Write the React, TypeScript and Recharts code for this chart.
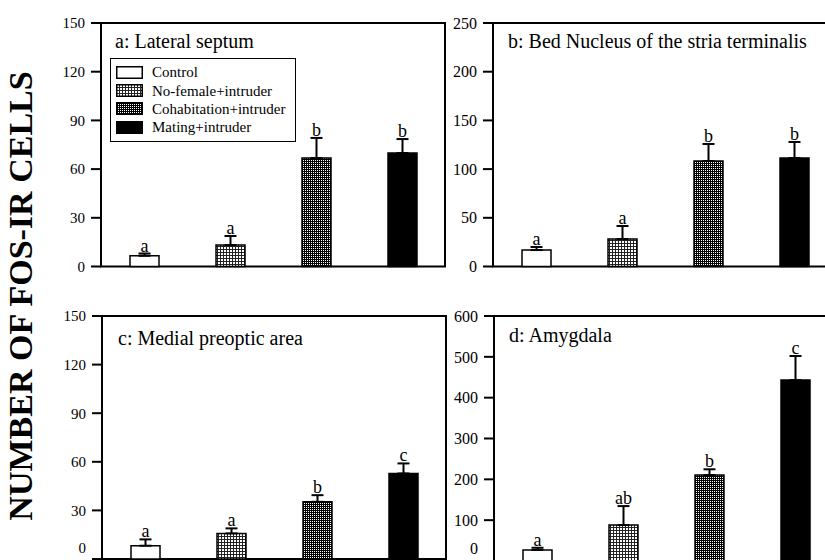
import React from 'react';
import { BarChart, Bar, XAxis, YAxis, ErrorBar, LabelList, Cell, Legend, ReferenceArea } from 'recharts';

const groups = ['Control', 'No-female+intruder', 'Cohabitation+intruder', 'Mating+intruder'];
const fills = ['#ffffff', 'url(#pNoFemale)', 'url(#pCohab)', '#000000'];

const lsMeans = [6.6, 13.2, 66.8, 69.9];
const lsErrors = [1.4, 5.6, 12.4, 8.6];
const lsLetters = ['a', 'a', 'b', 'b'];
const lsTicks = [0, 30, 60, 90, 120, 150];

const bnstMeans = [16.9, 28.2, 108.3, 111.4];
const bnstErrors = [3.1, 13.4, 17.5, 16.4];
const bnstLetters = ['a', 'a', 'b', 'b'];
const bnstTicks = [0, 50, 100, 150, 200, 250];

const mpoaMeans = [8.2, 15.8, 35.3, 52.8];
const mpoaErrors = [3.9, 3.1, 4.1, 6.2];
const mpoaLetters = ['a', 'a', 'b', 'c'];
const mpoaTicks = [0, 30, 60, 90, 120, 150];

const amyMeans = [27, 88, 210.6, 443];
const amyErrors = [5.4, 46.5, 14, 59];
const amyLetters = ['a', 'ab', 'b', 'c'];
const amyTicks = [0, 100, 200, 300, 400, 500, 600];

const yTitle = 'NUMBER OF FOS-IR CELLS';
const FONT = '"Liberation Serif", "Times New Roman", serif';

const ML = 40;
const YW = 60;
const MR = 15;
const MT = 23;
const MB = 23;

function LegendBox() {
  return (
    <div
      style={{
        width: 186,
        height: 84,
        boxSizing: 'border-box',
        border: '1.5px solid #000',
        background: '#fff',
        paddingTop: 4,
        paddingLeft: 5,
        fontFamily: FONT,
        fontSize: 15,
        color: '#000',
      }}
    >
      {groups.map((g, i) => (
        <div key={g} style={{ display: 'flex', alignItems: 'center', height: 18.4, lineHeight: '18px' }}>
          <svg width={27} height={13} style={{ marginRight: 9, display: 'block' }}>
            <rect x={0.75} y={0.75} width={25.5} height={11.5} fill={fills[i]} stroke="#000" strokeWidth={1.5} />
          </svg>
          <span>{g}</span>
        </div>
      ))}
    </div>
  );
}

type PanelProps = {
  title: string;
  means: number[];
  errors: number[];
  letters: string[];
  ticks: number[];
  x0: number;
  x1: number;
  y0: number;
  y1: number;
  titleX: number;
  titleY: number;
  tickFont: number;
  showLegend?: boolean;
};

function Panel(p: PanelProps) {
  const data = groups.map((g, i) => ({ group: g, value: p.means[i], err: [0, p.errors[i]] }));
  const left = p.x0 - ML - YW;
  const top = p.y0 - MT;
  const width = p.x1 - left + MR;
  const height = p.y1 - top + MB;
  const maxY = p.ticks[p.ticks.length - 1];
  const axisStyle = { stroke: '#000', strokeWidth: 2 };
  const pageBottomLimit = 560 - top - 12;
  const renderTick = (props: any) => {
    const { x, y, payload } = props;
    const ty = Math.min(Number(y), pageBottomLimit);
    return (
      <text x={x} y={ty} dy="0.355em" textAnchor="end" fontFamily={FONT} fontSize={p.tickFont} fill="#000">
        {payload.value}
      </text>
    );
  };
  const renderLetter = (props: any) => {
    const { x, y, width: w, height: h, index, value } = props;
    const pxPerUnit = Number(h) / Number(value);
    const errTop = Number(y) - p.errors[index] * pxPerUnit;
    return (
      <text
        key={`lt-${index}`}
        x={Number(x) + Number(w) / 2}
        y={errTop - 2}
        textAnchor="middle"
        fontFamily={FONT}
        fontSize={18}
        fill="#000"
      >
        {p.letters[index]}
      </text>
    );
  };
  return (
    <div style={{ position: 'absolute', left, top, width, height }}>
      <BarChart
        width={width}
        height={height}
        data={data}
        margin={{ top: MT, right: MR, bottom: MB, left: ML }}
        barSize={29}
      >
        <XAxis dataKey="group" tick={false} tickLine={false} height={0} axisLine={axisStyle} />
        <YAxis
          domain={[0, maxY]}
          ticks={p.ticks}
          interval={0}
          width={YW}
          tickSize={10}
          tickMargin={6}
          tick={renderTick}
          axisLine={axisStyle}
          tickLine={axisStyle}
        />
        <ReferenceArea
          x1={groups[0]}
          x2={groups[groups.length - 1]}
          y1={0}
          y2={maxY}
          fill="none"
          fillOpacity={0}
          stroke="#000"
          strokeWidth={2}
          ifOverflow="visible"
        />
        <Bar dataKey="value" stroke="#000" strokeWidth={1.5} isAnimationActive={false}>
          {data.map((d, i) => (
            <Cell key={d.group} fill={fills[i]} />
          ))}
          <ErrorBar dataKey="err" width={6} stroke="#000" strokeWidth={2} direction="y" isAnimationActive={false} />
          <LabelList dataKey="value" content={renderLetter} />
        </Bar>
        <text x={p.titleX - left} y={p.titleY - top} fontFamily={FONT} fontSize={20} fill="#000">
          {p.title}
        </text>
        {p.showLegend && (
          <Legend
            layout="vertical"
            align="center"
            verticalAlign="middle"
            content={() => <LegendBox />}
            wrapperStyle={{ left: 110 - left, top: 58 - top, width: 186, height: 84 }}
          />
        )}
      </BarChart>
    </div>
  );
}

export default function App() {
  return (
    <div style={{ position: 'absolute', left: 0, top: 0, width: 825, height: 560, overflow: 'hidden', background: '#fff' }}>
      <svg width={0} height={0} style={{ position: 'absolute' }}>
        <defs>
          <pattern id="pNoFemale" patternUnits="userSpaceOnUse" width={3} height={3}>
            <rect x={0} y={0} width={3} height={3} fill="#fff" />
            <rect x={0} y={0} width={3} height={1} fill="#222" />
            <rect x={0} y={0} width={1} height={3} fill="#222" />
          </pattern>
          <pattern id="pCohab" patternUnits="userSpaceOnUse" width={2} height={2}>
            <rect x={0} y={0} width={2} height={2} fill="#000" />
            <rect x={0} y={0} width={1} height={1} fill="#fff" />
          </pattern>
        </defs>
      </svg>
      <svg width={60} height={560} style={{ position: 'absolute', left: 0, top: 0 }}>
        <text
          x={32}
          y={296}
          transform="rotate(-90, 32, 296)"
          textAnchor="middle"
          fontFamily={FONT}
          fontWeight="bold"
          fontSize={34}
          fill="#000"
        >
          {yTitle}
        </text>
      </svg>
      <Panel title="a: Lateral septum" means={lsMeans} errors={lsErrors} letters={lsLetters} ticks={lsTicks}
        x0={101} x1={445} y0={23} y1={266.5} titleX={115} titleY={48} tickFont={15} showLegend />
      <Panel title="b: Bed Nucleus of the stria terminalis" means={bnstMeans} errors={bnstErrors} letters={bnstLetters} ticks={bnstTicks}
        x0={493} x1={837} y0={23} y1={266.5} titleX={508} titleY={48} tickFont={16} />
      <Panel title="c: Medial preoptic area" means={mpoaMeans} errors={mpoaErrors} letters={mpoaLetters} ticks={mpoaTicks}
        x0={102} x1={446} y0={316} y1={559} titleX={118} titleY={345} tickFont={15} />
      <Panel title="d: Amygdala" means={amyMeans} errors={amyErrors} letters={amyLetters} ticks={amyTicks}
        x0={494} x1={838} y0={316} y1={561} titleX={509} titleY={342} tickFont={16} />
    </div>
  );
}
